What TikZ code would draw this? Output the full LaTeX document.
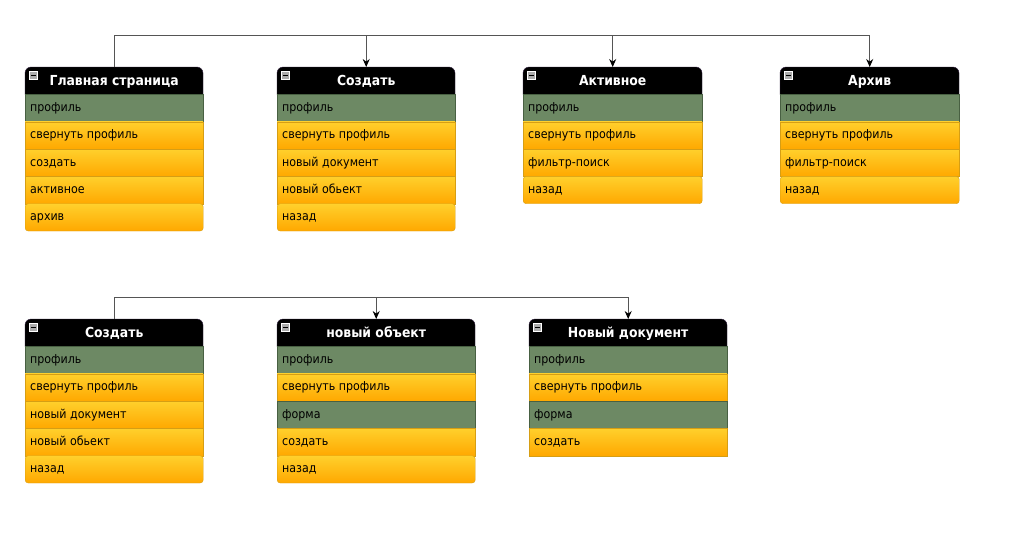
\documentclass[tikz,border=0pt]{standalone}
\usepackage{fontspec}
\setmainfont{DejaVu Sans Condensed}
\usetikzlibrary{arrows.meta}
\definecolor{rowgreen}{RGB}{109,137,100}
\definecolor{greenline}{RGB}{72,96,66}
\definecolor{orT}{RGB}{255,208,44}
\definecolor{orB}{RGB}{255,168,0}
\definecolor{orline}{RGB}{214,158,20}
\definecolor{headline}{RGB}{50,32,64}
\definecolor{connline}{RGB}{85,85,85}
\tikzset{
  head/.style={rectangle, inner sep=0pt, minimum height=27.3pt, text=white, text height=10pt, text depth=0pt, font=\fontsize{13.8}{15}\selectfont\bfseries},
  rowbase/.style={rectangle, inner sep=0pt, minimum height=27.3pt},
  rowg/.style={rowbase, fill=rowgreen, draw=greenline},
  rowo/.style={rowbase, top color=orT, bottom color=orB, draw=orline},
  rowol/.style={rowo, rounded corners=3pt},
  rowtext/.style={inner sep=0pt, text height=6.8pt, text depth=0pt, font=\fontsize{12.3}{14}\selectfont, text=black},
  conn/.style={draw=connline, line width=0.9pt},
  arr/.style={conn, -{Stealth[length=8pt,width=7pt,black]}},
  minusbox/.style={rectangle, inner sep=0pt, minimum size=8pt, fill=gray!65, draw=white, line width=0.8pt}
}
% #1 name, #2 x, #3 y, #4 width, #5 title, #6 rows
\newcommand{\umlbox}[6]{%
  \fill[black, draw=headline] (#2,#3+27.3) [rounded corners=6pt] -- (#2,#3) -- (#2+#4,#3) [sharp corners] -- (#2+#4,#3+27.3) -- cycle;
  \node[head, minimum width=#4pt, anchor=north west] (#1) at (#2,#3) {#5};
  \node[minusbox, anchor=north west] (#1-m) at (#2+4,#3+4) {};
  \draw[black, line width=1pt] ([xshift=-2.3pt]#1-m.center) -- ([xshift=2.3pt]#1-m.center);
  \foreach \c/\t [count=\i] in {#6} {
    \node[row\c, minimum width=#4pt, anchor=north west] (#1-\i) at (#2,#3+27.3*\i) {};
    \node[rowtext, anchor=west] (#1-\i-t) at ([xshift=5pt]#1-\i.west) {\t};
  }
}
\begin{document}
\begin{tikzpicture}[x=1pt,y=-1pt]
\useasboundingbox (0,0) rectangle (1009,533);
\umlbox{b1}{25}{67}{178}{Главная страница}{g/профиль, o/свернуть профиль, o/создать, o/активное, ol/архив}
\umlbox{b2}{277}{67}{178}{Создать}{g/профиль, o/свернуть профиль, o/новый документ, o/новый обьект, ol/назад}
\umlbox{b3}{523}{67}{179}{Активное}{g/профиль, o/свернуть профиль, o/фильтр-поиск, ol/назад}
\umlbox{b4}{780}{67}{179}{Архив}{g/профиль, o/свернуть профиль, o/фильтр-поиск, ol/назад}
\umlbox{b5}{25}{319}{178}{Создать}{g/профиль, o/свернуть профиль, o/новый документ, o/новый обьект, ol/назад}
\umlbox{b6}{277}{319}{198}{новый объект}{g/профиль, o/свернуть профиль, g/форма, o/создать, ol/назад}
\umlbox{b7}{529}{319}{198}{Новый документ}{g/профиль, o/свернуть профиль, g/форма, o/создать}
\coordinate (j1) at (0,35);
\coordinate (j2) at (0,297);
\draw[conn] (b1.north) -- (b1.north |- j1) -- (b4.north |- j1);
\draw[arr] (b2.north |- j1) -- (b2.north);
\draw[arr] (b3.north |- j1) -- (b3.north);
\draw[arr] (b4.north |- j1) -- (b4.north);
\draw[conn] (b5.north) -- (b5.north |- j2) -- (b7.north |- j2);
\draw[arr] (b6.north |- j2) -- (b6.north);
\draw[arr] (b7.north |- j2) -- (b7.north);
\end{tikzpicture}
\end{document}
